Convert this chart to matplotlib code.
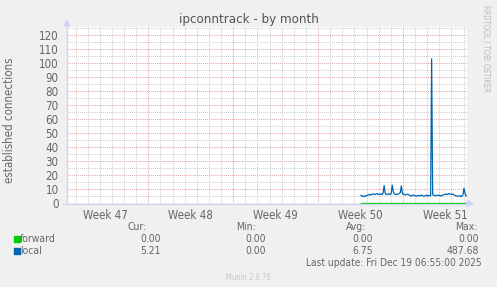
import numpy as np
import matplotlib
matplotlib.use("Agg")
import matplotlib.pyplot as plt
import matplotlib.dates as mdates
import pandas as pd
from matplotlib.lines import Line2D
from matplotlib.patches import Polygon, Rectangle

# ---------------- data ----------------
title = "ipconntrack - by month"
ylabel = "established connections"
end_time = pd.Timestamp("2025-12-19 06:55:00")
span_days = 33
week_labels = ["Week 47", "Week 48", "Week 49", "Week 50", "Week 51"]
week_starts = ["2025-11-16", "2025-11-23", "2025-11-30", "2025-12-07", "2025-12-14"]
y_ticks = [0, 10, 20, 30, 40, 50, 60, 70, 80, 90, 100, 110, 120]

local_values = [
    5.5, 4.8, 5.0, 4.5, 5.2, 5.0, 5.4, 5.8, 6.0, 5.6, 6.2, 6.0, 6.5, 6.3, 6.0, 6.4,
    6.8, 6.2, 6.0, 6.5, 6.3, 6.0, 7.5, 12.5, 7.0, 6.2, 6.0, 6.5, 6.4, 6.0, 7.0, 12.8,
    8.0, 6.5, 6.2, 6.0, 6.4, 6.3, 6.8, 7.5, 12.3, 7.0, 6.0, 6.2, 5.8, 6.0, 6.3, 6.1,
    5.5, 5.2, 5.0, 5.4, 5.8, 5.3, 5.0, 4.8, 5.2, 5.5, 5.0, 5.3, 5.8, 5.2, 4.8, 5.0,
    5.4, 5.6, 5.0, 5.2, 5.5, 5.0, 103.0, 6.0, 5.5, 5.3, 5.2, 5.4, 5.6, 5.3, 5.5, 5.2,
    5.0, 5.6, 6.0, 6.2, 6.5, 6.0, 6.3, 6.8, 6.2, 6.5, 6.0, 6.4, 5.8, 5.5, 5.2, 5.0,
    4.8, 5.0, 5.2, 4.6, 5.0, 5.8, 10.5, 7.0, 5.0, 5.21,
]
forward_values = [0.0] * len(local_values)

series_names = ["forward", "local"]
series_colors = ["#00CC00", "#0066B3"]
stat_headers = ["Cur:", "Min:", "Avg:", "Max:"]
stats = {
    "forward": ["0.00", "0.00", "0.00", "0.00"],
    "local": ["5.21", "0.00", "6.75", "487.68"],
}
last_update = "Last update: Fri Dec 19 06:55:00 2025"
version_text = "Munin 2.0.76"
side_text = "RRDTOOL / TOBI OETIKER"

# ---------------- layout ----------------
W, H = 497, 287
plt.rcParams["font.family"] = ["DejaVu Sans"]
plt.rcParams["font.stretch"] = "condensed"
fig = plt.figure(figsize=(W / 100, H / 100), dpi=100, facecolor="#F0F0F0")
FONT = "#666666"

left, right, top, bottom = 67, 467, 27, 203
ax = fig.add_axes([left / W, 1 - bottom / H, (right - left) / W, (bottom - top) / H])
ax.set_facecolor("white")
for s in ax.spines.values():
    s.set_visible(False)

start_time = end_time - pd.Timedelta(days=span_days)
ax.set_xlim(mdates.date2num(start_time), mdates.date2num(end_time))
ax.set_ylim(0, 125.7)

# grid
minor_c = "#CFCFCF"
major_c = "#E3A8A8"
dash = (0, (1, 1))
for v in np.arange(5, 126, 5):
    if v % 10 == 0:
        ax.axhline(v, color=major_c, lw=0.75, ls=dash, zorder=1)
    else:
        ax.axhline(v, color=minor_c, lw=0.75, ls=dash, zorder=1)
wk = pd.to_datetime(week_starts)
wkset = set(wk)
days = pd.date_range(start_time.ceil("D"), end_time, freq="D")
for d in days:
    if d in wkset:
        continue
    ax.axvline(mdates.date2num(d), color=minor_c, lw=0.75, ls=dash, zorder=1)
for d in wk:
    if d > start_time:
        ax.axvline(mdates.date2num(d), color=major_c, lw=0.75, ls=dash, zorder=1)

# ticks
ax.set_yticks(y_ticks)
ax.set_yticklabels([str(t) for t in y_ticks])
ax.tick_params(axis="y", length=0, pad=6, labelsize=8.3, labelcolor=FONT)
centers = [mdates.date2num(d + pd.Timedelta(days=3.5)) for d in wk]
ax.set_xticks(centers)
ax.set_xticklabels(week_labels)
ax.tick_params(axis="x", length=0, pad=4, labelsize=8.3, labelcolor=FONT)

# data
times = pd.date_range(end=end_time, periods=len(local_values), freq="2h")
tn = mdates.date2num(times)
ax.plot(tn, forward_values, color=series_colors[0], lw=1.0, zorder=4, clip_on=False)
ax.plot(tn, local_values, color=series_colors[1], lw=0.9, zorder=5)

# axes lines with arrows (pixel coords)
def fx(x):
    return x / W

def fy(y):
    return 1 - y / H

axis_c = "#CFD6F8"
fig.add_artist(Line2D([fx(67), fx(67)], [fy(203), fy(25)], color=axis_c, lw=1.0, zorder=3))
fig.add_artist(Line2D([fx(63), fx(468)], [fy(203.5), fy(203.5)], color=axis_c, lw=1.0, zorder=3))
fig.add_artist(Polygon([[fx(64), fy(26)], [fx(70), fy(26)], [fx(67), fy(20)]], closed=True,
                       color=axis_c, transform=fig.transFigure))
fig.add_artist(Polygon([[fx(467), fy(200.5)], [fx(467), fy(206.5)], [fx(473), fy(203.5)]], closed=True,
                       color=axis_c, transform=fig.transFigure))

# title / labels
fig.text(fx(248.5), fy(19), title, ha="center", va="center", fontsize=9.5, color="#555555")
fig.text(fx(10), fy(120), ylabel, ha="center", va="center", rotation=90, fontsize=8.3, color=FONT)
fig.text(fx(486), fy(5), side_text, ha="center", va="top", rotation=270, fontsize=5.5, color="#BBBBBB")

# legend
row_y = [239, 251]
fig.text(fx(147), fy(227), stat_headers[0], ha="right", va="center", fontsize=7.5, color=FONT)
fig.text(fx(256), fy(227), stat_headers[1], ha="right", va="center", fontsize=7.5, color=FONT)
fig.text(fx(366), fy(227), stat_headers[2], ha="right", va="center", fontsize=7.5, color=FONT)
fig.text(fx(478), fy(227), stat_headers[3], ha="right", va="center", fontsize=7.5, color=FONT)
col_right = [161, 266, 373, 479]
for name, color, y in zip(series_names, series_colors, row_y):
    fig.add_artist(Rectangle((fx(14), fy(y + 3)), 6 / W, 6 / H, color=color,
                             transform=fig.transFigure))
    fig.text(fx(20), fy(y), name, ha="left", va="center", fontsize=7.5, color=FONT)
    for cx, val in zip(col_right, stats[name]):
        fig.text(fx(cx), fy(y), val, ha="right", va="center", fontsize=7.5, color=FONT)
fig.text(fx(482), fy(263), last_update, ha="right", va="center", fontsize=7.3, color=FONT)
fig.text(fx(248.5), fy(277), version_text, ha="center", va="center", fontsize=5.5, color="#C8C8C8")

fig.savefig("out.png", dpi=100, facecolor=fig.get_facecolor())
